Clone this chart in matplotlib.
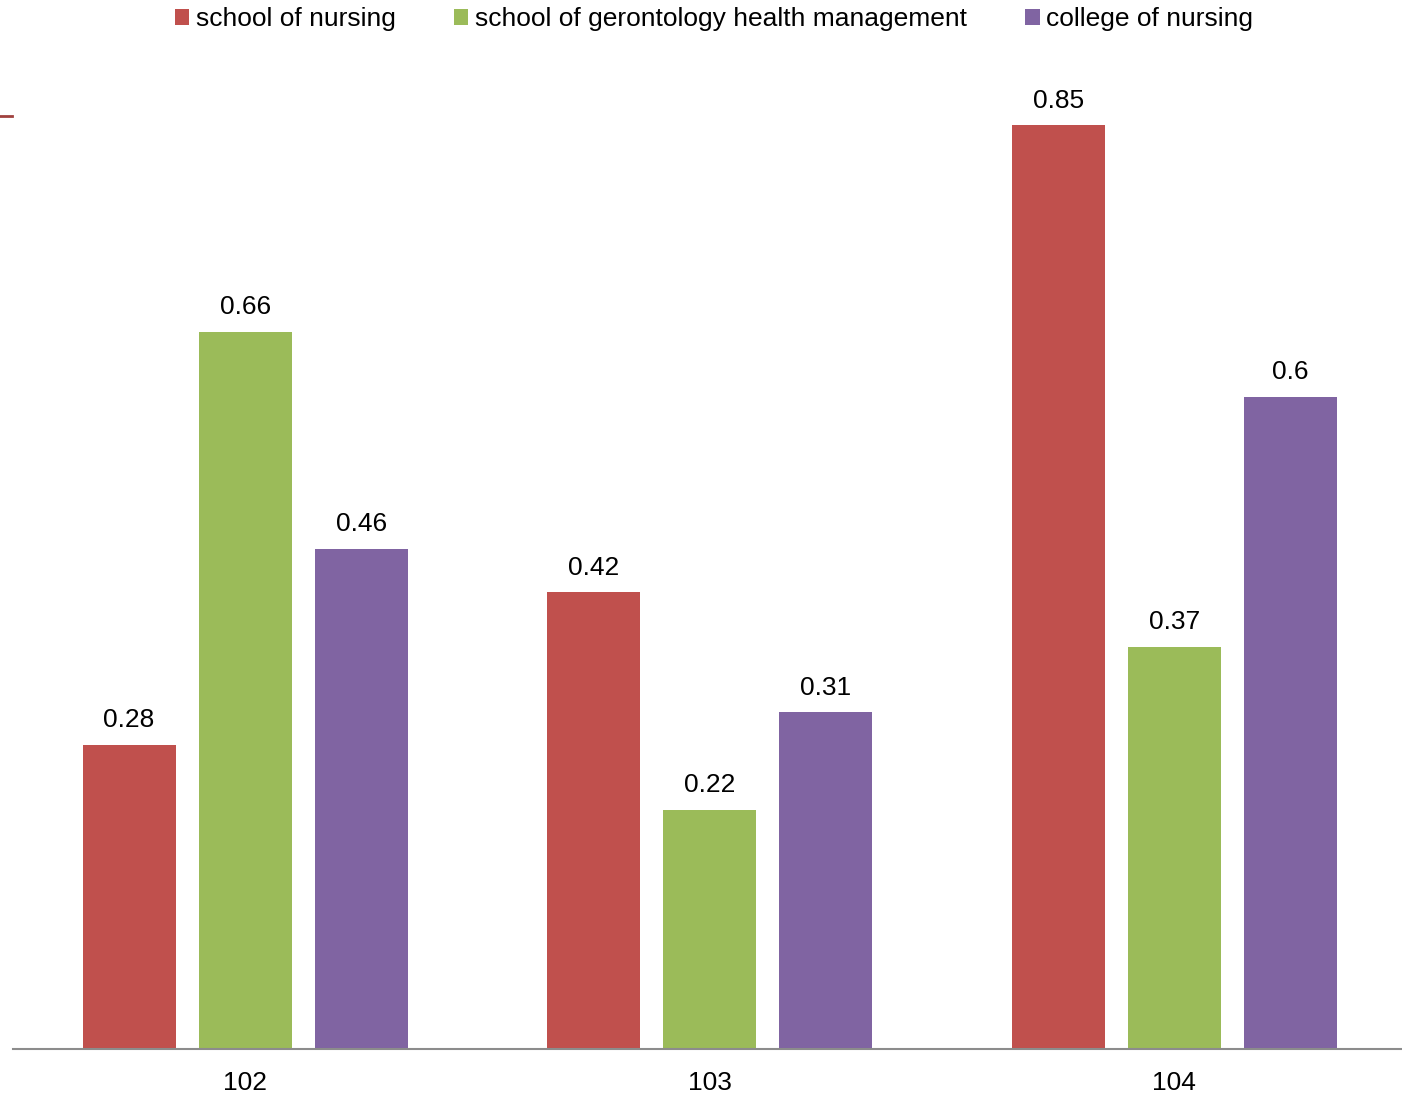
import matplotlib.pyplot as plt
import numpy as np
from matplotlib.lines import Line2D

plt.rcParams['font.family'] = ['Liberation Sans', 'DejaVu Sans']

# Data
years = ['102', '103', '104']
series = ['school of nursing', 'school of gerontology health management', 'college of nursing']
nursing = [0.28, 0.42, 0.85]
gerontology = [0.66, 0.22, 0.37]
college = [0.46, 0.31, 0.6]
colors = ['#C0504D', '#9BBB59', '#8064A2']

W, H = 1402, 1103
fs = 19
fig = plt.figure(figsize=(W / 100, H / 100), dpi=100)
ax = fig.add_axes([13 / W, 54 / H, 1393.5 / W, (1049 - 70.7) / H])

x = np.arange(len(years))
width = 0.2
offsets = [-0.25, 0, 0.25]
for vals, off, c, name in zip([nursing, gerontology, college], offsets, colors, series):
    bars = ax.bar(x + off, vals, width, color=c, label=name)
    ax.bar_label(bars, labels=[f'{v:g}' for v in vals], padding=9, fontsize=fs)

ax.set_xlim(-0.5, 2.5)
ax.set_ylim(0, 0.9)
ax.set_xticks(x)
ax.set_xticklabels(years, fontsize=fs)
ax.tick_params(axis='x', length=0, pad=16)
ax.set_yticks([])
for s in ['top', 'right', 'left']:
    ax.spines[s].set_visible(False)
ax.spines['bottom'].set_color('#8c8c8c')
ax.spines['bottom'].set_linewidth(1.5)

fig.legend(loc='center', bbox_to_anchor=(714 / W, 1 - 19 / H), ncol=3, frameon=False,
           fontsize=fs, handlelength=0.55, handleheight=0.55, handletextpad=0.25,
           columnspacing=2.2, borderpad=0)

# short red stub at the left edge
fig.add_artist(Line2D([0, 12 / W], [1 - 116 / H, 1 - 116 / H], color='#A0413E', lw=2))

fig.savefig('out.png', dpi=100)
